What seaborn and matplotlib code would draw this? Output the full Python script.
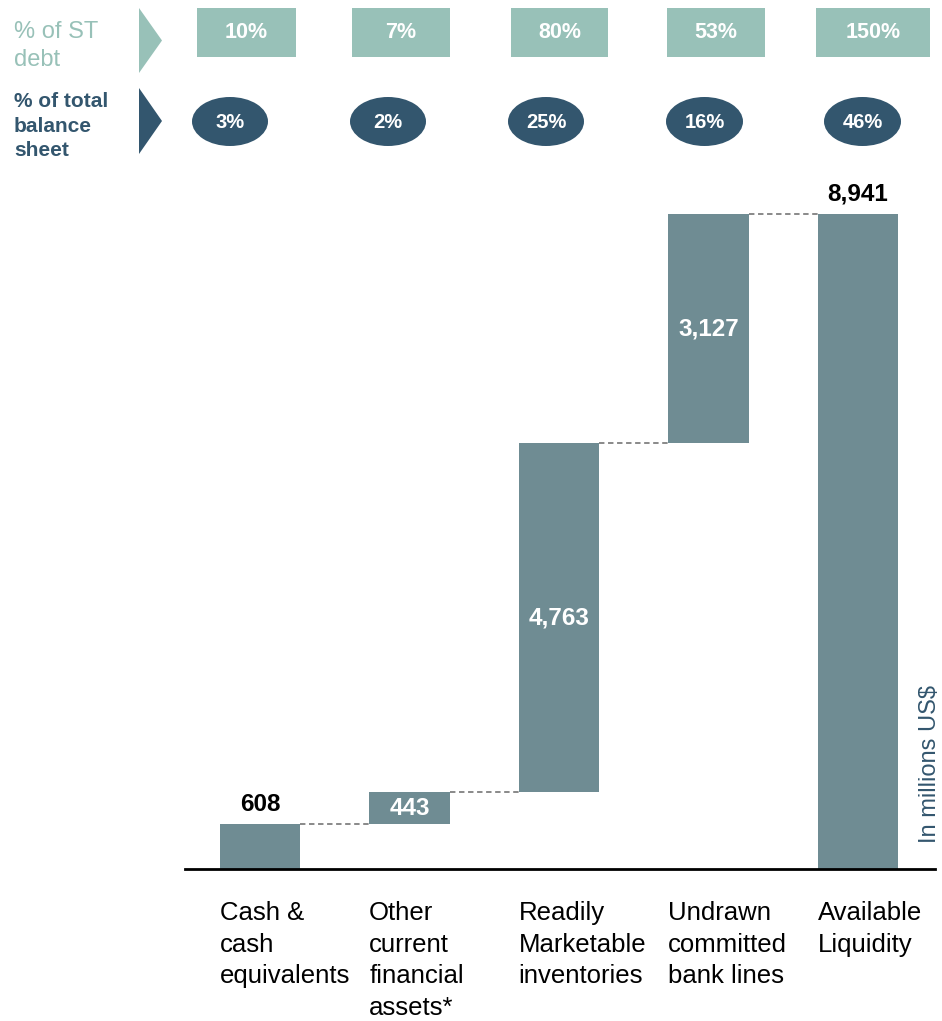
import numpy as np
import pandas as pd
import matplotlib
matplotlib.use("Agg")
import matplotlib.pyplot as plt
from matplotlib.patches import Rectangle, Ellipse, Polygon
import seaborn as sns

# ---- data ----
categories = ["Cash &\ncash\nequivalents", "Other\ncurrent\nfinancial\nassets*",
              "Readily\nMarketable\ninventories", "Undrawn\ncommitted\nbank lines",
              "Available\nLiquidity"]
values = [608, 443, 4763, 3127, 8941]
value_labels = ["608", "443", "4,763", "3,127", "8,941"]
st_debt_pct = ["10%", "7%", "80%", "53%", "150%"]
balance_pct = ["3%", "2%", "25%", "16%", "46%"]

# ---- styles ----
BAR = "#6F8C93"
TEAL = "#98C1B8"
NAVY = "#33566E"
FONT = "Liberation Sans"

sns.set_theme(style="white")
plt.rcParams["font.family"] = [FONT, "DejaVu Sans"]

W, H = 942, 1021
fig = plt.figure(figsize=(W / 100, H / 100), dpi=100)

# waterfall bottoms
bottoms = []
run = 0
for v in values[:-1]:
    bottoms.append(run)
    run += v
bottoms.append(0)
tops = [b + v for b, v in zip(bottoms, values)]

df = pd.DataFrame({"cat": categories, "val": values, "bottom": bottoms})

base_px, top_px = 869, 190
ax = fig.add_axes([185 / W, 1 - base_px / H, 750 / W, (base_px - top_px) / H])
bw = 0.54
sns.barplot(data=df, x="cat", y="val", bottom=df["bottom"].values, color=BAR,
            width=bw, saturation=1, ax=ax, edgecolor="none", linewidth=0)

scale = (869 - 214) / 8941.0
ax.set_ylim(0, (base_px - top_px) / scale)
ax.set_xlim(-0.502, 4.515)

# connectors
for i in range(len(values) - 1):
    ax.plot([i + bw / 2, i + 1 - bw / 2], [tops[i], tops[i]], ls=(0, (3, 2)),
            color="#808080", lw=1.3, zorder=1)

# value labels
for i, (b, v, lab) in enumerate(zip(bottoms, values, value_labels)):
    if i in (0, 4):
        ax.annotate(lab, (i, b + v), xytext=(0, 14.5), textcoords="offset points",
                    ha="center", va="center", fontsize=17.5, fontweight="bold", color="black")
    else:
        ax.text(i, b + v / 2, lab, ha="center", va="center", fontsize=17.5,
                fontweight="bold", color="white")

for s in ["top", "left", "right"]:
    ax.spines[s].set_visible(False)
ax.spines["bottom"].set_color("black")
ax.spines["bottom"].set_linewidth(2)
ax.set_yticks([])
ax.set_xticks(np.arange(len(categories)) - bw / 2)
ax.set_xticklabels(categories, ha="left", fontsize=18.5, color="black", linespacing=1.4)
ax.tick_params(axis="x", length=0, pad=23)
ax.set_xlabel("")
ax.set_ylabel("")

# ---- header overlay ----
ov = fig.add_axes([0, 0, 1, 1], facecolor="none")
ov.set_xlim(0, W)
ov.set_ylim(H, 0)
ov.set_axis_off()

ov.text(14, 46, "% of ST\ndebt", ha="left", va="center", fontsize=17, color=TEAL,
        linespacing=1.4)
ov.text(14, 126, "% of total\nbalance\nsheet", ha="left", va="center", fontsize=15,
        color=NAVY, fontweight="bold", linespacing=1.38)
ov.add_patch(Polygon([(139, 8), (162, 40.5), (139, 73)], closed=True, color=TEAL, lw=0))
ov.add_patch(Polygon([(139, 88), (162, 121), (139, 154)], closed=True, color=NAVY, lw=0))

box_spans = [(197, 296), (352, 450), (511, 608), (667, 765), (816, 930)]
ell_spans = [(192, 268), (350, 426), (508, 584), (666, 743), (824, 901)]
for (x0, x1), t in zip(box_spans, st_debt_pct):
    ov.add_patch(Rectangle((x0, 8), x1 - x0, 49, color=TEAL, lw=0))
    ov.text((x0 + x1) / 2, 33, t, ha="center", va="center", fontsize=15.5,
            fontweight="bold", color="white")
for (x0, x1), t in zip(ell_spans, balance_pct):
    ov.add_patch(Ellipse(((x0 + x1) / 2, 121.5), x1 - x0, 49, color=NAVY, lw=0))
    ov.text((x0 + x1) / 2, 122, t, ha="center", va="center", fontsize=14.5,
            fontweight="bold", color="white")

ov.text(919, 843, "In millions US$", rotation=90, ha="left", va="bottom",
        fontsize=17, color=NAVY)

fig.savefig("out.png", dpi=100)
